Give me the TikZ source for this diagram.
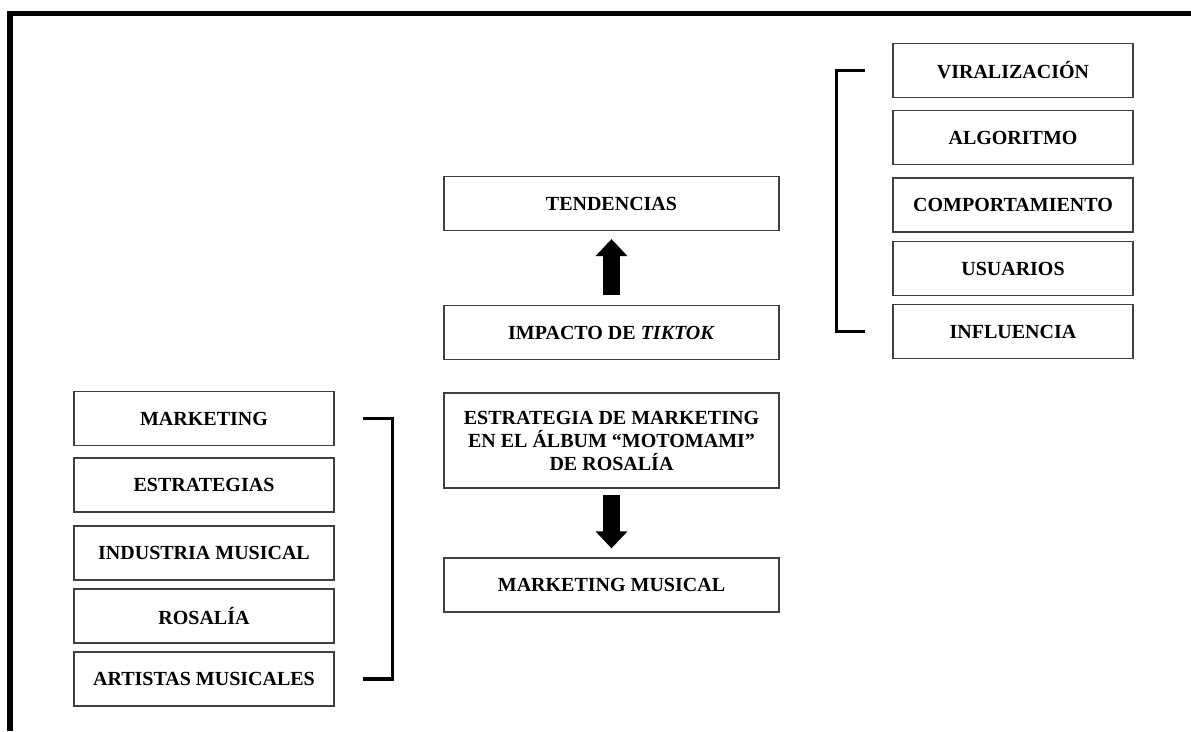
\documentclass[tikz,border=0pt]{standalone}
\usepackage{fontspec}
\setmainfont{Liberation Serif}
\usetikzlibrary{arrows.meta}

\begin{document}
\begin{tikzpicture}[
    x=1pt,
    y=-1pt,
    line cap=butt,
    line join=miter,
    concept/.style={
        draw=black!75,
        line width=1.3pt,
        inner sep=0pt,
        align=center,
        font=\bfseries\fontsize{20}{23}\selectfont
    },
    frameline/.style={line width=5.5pt},
    bracketline/.style={line width=3.4pt},
    blockarrow/.style={
        line width=17pt,
        -{Triangle[width=31pt,length=17pt]}
    }
]

% =========================================================
% Рамка рисунка
% =========================================================

\useasboundingbox (0,0) rectangle (1191,731);

\draw[frameline] (10,731) -- (10,13.5) -- (1191,13.5);

% =========================================================
% Параметры блоков
% =========================================================

\def\wL{260}    % ширина левых блоков
\def\wC{335}    % ширина центральных блоков
\def\wR{240}    % ширина правых блоков
\def\h{54}      % высота блока

% =========================================================
% Правая колонка
% =========================================================

\node[concept, minimum width=\wR, minimum height=\h] (viral)
    at (1013,70.5) {VIRALIZACIÓN};
\node[concept, minimum width=\wR, minimum height=\h] (algor)
    at (1013,137.5) {ALGORITMO};
\node[concept, minimum width=\wR, minimum height=\h] (comport)
    at (1013,205) {COMPORTAMIENTO};
\node[concept, minimum width=\wR, minimum height=\h] (usuar)
    at (1013,268.5) {USUARIOS};
\node[concept, minimum width=\wR, minimum height=\h] (influ)
    at (1013,331.5) {INFLUENCIA};

% =========================================================
% Центральная колонка
% =========================================================

\node[concept, minimum width=\wC, minimum height=\h] (tend)
    at (611.5,203.5) {TENDENCIAS};
\node[concept, minimum width=\wC, minimum height=\h] (impacto)
    at (611.5,332.5) {IMPACTO DE \textit{TIKTOK}};
\node[concept, minimum width=\wC, minimum height=95] (estrat)
    at (611.5,440.5)
    {ESTRATEGIA DE MARKETING\\EN EL ÁLBUM “MOTOMAMI”\\DE ROSALÍA};
\node[concept, minimum width=\wC, minimum height=\h] (mktmus)
    at (611.5,585) {MARKETING MUSICAL};

% =========================================================
% Левая колонка
% =========================================================

\node[concept, minimum width=\wL, minimum height=\h] (mkt)
    at (204,418.5) {MARKETING};
\node[concept, minimum width=\wL, minimum height=\h] (estrg)
    at (204,485) {ESTRATEGIAS};
\node[concept, minimum width=\wL, minimum height=\h] (indus)
    at (204,553) {INDUSTRIA MUSICAL};
\node[concept, minimum width=\wL, minimum height=\h] (rosal)
    at (204,616) {ROSALÍA};
\node[concept, minimum width=\wL, minimum height=\h] (artist)
    at (204,679) {ARTISTAS MUSICALES};

% =========================================================
% Стрелки
% =========================================================

\draw[blockarrow] ([yshift=10pt]impacto.north) -- ([yshift=-8pt]tend.south);
\draw[blockarrow] ([yshift=-6pt]estrat.south) -- ([yshift=9pt]mktmus.north);

% =========================================================
% Скобки
% =========================================================

\draw[bracketline]
    ([xshift=-27pt]viral.west) -- ++(-29,0) |- ([xshift=-27pt]influ.west);
\draw[bracketline]
    ([xshift=28pt]mkt.east) -- ++(30,0) |- ([xshift=28pt]artist.east);

\end{tikzpicture}
\end{document}
